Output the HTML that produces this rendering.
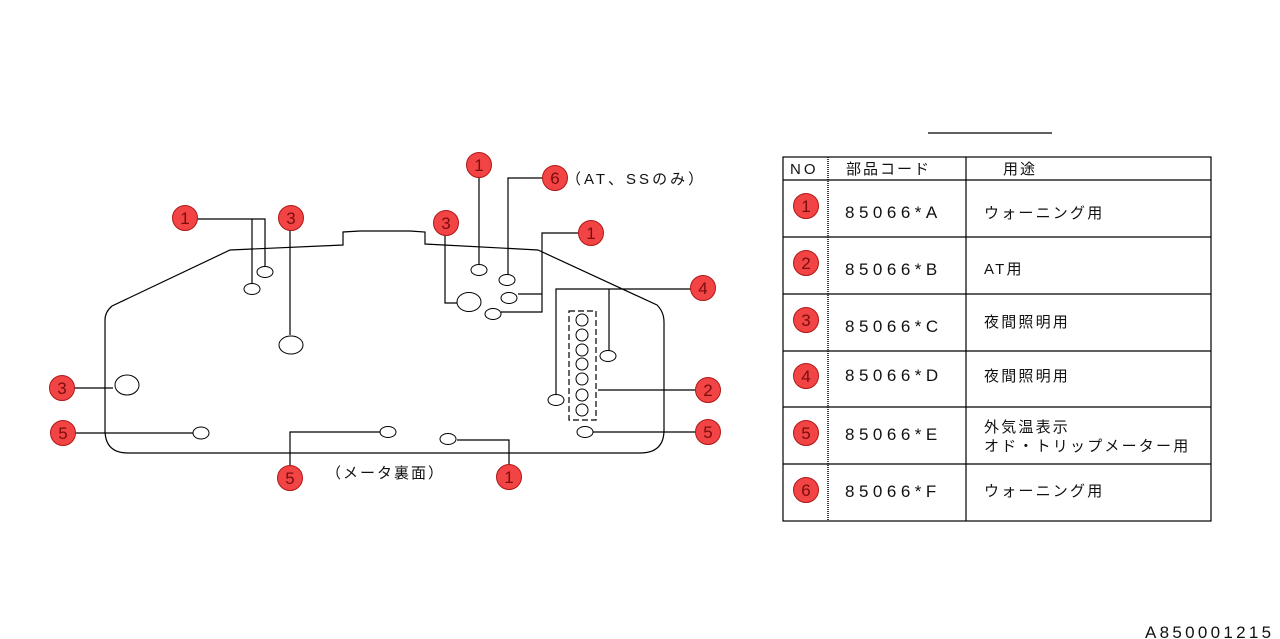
<!DOCTYPE html>
<html><head><meta charset="utf-8"><style>
html,body{margin:0;padding:0;background:#fff;}
svg{display:block;}
text{font-family:"Liberation Sans","Noto Sans CJK JP",sans-serif;}
</style></head><body>
<svg width="1280" height="639" viewBox="0 0 1280 639" xmlns="http://www.w3.org/2000/svg">
<defs>
<g id="b"><circle r="12.5" fill="#f24444" stroke="#b01818" stroke-width="1"/></g>
</defs>
<g fill="none" stroke="#000" stroke-width="1.2">
<path d="M230,250 L343,245 L343,232 L360,231 L410,231 L425,232 L425,244 L538,250 L657,305 Q664,312 664,322 L664,430 Q664,453 640,453 L128,453 Q105,453 105,430 L105,320 Q105,312 112,306 Z"/>
<path d="M196,219 L265,219 L265,267 M252,219 L252,284"/>
<path d="M290,230 L290,335"/>
<path d="M73,388 L113,388"/>
<path d="M74,433 L194,433"/>
<path d="M290,466 L290,432 L381,432"/>
<path d="M509,465 L509,440 L457,440"/>
<path d="M479,177 L479,265"/>
<path d="M544,178 L508,178 L508,275"/>
<path d="M445,235 L445,303 L457,303"/>
<path d="M580,233 L542,233 L542,312 L501,312 M542,294 L518,294"/>
<path d="M692,289 L556,289 L556,395 M609,289 L609,351"/>
<path d="M697,390 L598,390"/>
<path d="M697,432 L593,432"/>
<rect x="569" y="311" width="27" height="109" stroke-dasharray="6,3"/>
</g>
<g fill="#fff" stroke="#000" stroke-width="1">
<ellipse cx="265" cy="272" rx="8" ry="5.5"/>
<ellipse cx="252" cy="289" rx="8" ry="5.5"/>
<ellipse cx="291" cy="345" rx="12" ry="9"/>
<ellipse cx="127" cy="385" rx="12" ry="10"/>
<ellipse cx="201" cy="433" rx="8" ry="6"/>
<ellipse cx="388" cy="432" rx="8" ry="5.5"/>
<ellipse cx="448" cy="439" rx="8" ry="5.5"/>
<ellipse cx="479" cy="270" rx="8" ry="5.5"/>
<ellipse cx="507" cy="280" rx="8" ry="5.5"/>
<ellipse cx="469" cy="302" rx="12" ry="9.5"/>
<ellipse cx="509" cy="298" rx="8" ry="5.5"/>
<ellipse cx="493" cy="314" rx="8" ry="5.5"/>
<ellipse cx="608" cy="356" rx="8" ry="5.5"/>
<ellipse cx="556" cy="400" rx="8" ry="5.5"/>
<ellipse cx="585" cy="432" rx="8" ry="5.5"/>
<circle cx="582" cy="320" r="6"/><circle cx="582" cy="335" r="6"/><circle cx="582" cy="350" r="6"/><circle cx="582" cy="364" r="6"/><circle cx="582" cy="379" r="6"/><circle cx="582" cy="395" r="6"/><circle cx="582" cy="410" r="6"/>
</g>
<g font-size="17" fill="#7a0d0d" text-anchor="middle">
<use href="#b" x="185" y="218"/><text x="185" y="224">1</text>
<use href="#b" x="291" y="218"/><text x="291" y="224">3</text>
<use href="#b" x="62" y="388"/><text x="62" y="394">3</text>
<use href="#b" x="63" y="433"/><text x="63" y="439">5</text>
<use href="#b" x="290" y="478"/><text x="290" y="484">5</text>
<use href="#b" x="509" y="477"/><text x="509" y="483">1</text>
<use href="#b" x="479" y="165"/><text x="479" y="171">1</text>
<use href="#b" x="555" y="178"/><text x="555" y="184">6</text>
<use href="#b" x="446" y="223"/><text x="446" y="229">3</text>
<use href="#b" x="591" y="233"/><text x="591" y="239">1</text>
<use href="#b" x="703" y="288"/><text x="703" y="294">4</text>
<use href="#b" x="708" y="390"/><text x="708" y="396">2</text>
<use href="#b" x="708" y="432"/><text x="708" y="438">5</text>
<use href="#b" x="806" y="206"/><text x="806" y="212">1</text>
<use href="#b" x="806" y="263"/><text x="806" y="269">2</text>
<use href="#b" x="806" y="320"/><text x="806" y="326">3</text>
<use href="#b" x="806" y="376"/><text x="806" y="382">4</text>
<use href="#b" x="806" y="433"/><text x="806" y="439">5</text>
<use href="#b" x="806" y="490"/><text x="806" y="496">6</text>
</g>
<g font-size="15" fill="#111">
<text x="566" y="184" letter-spacing="3">（AT、SSのみ）</text>
<text x="326" y="478" letter-spacing="2">（メータ裏面）</text>
</g>
<g fill="none" stroke="#000" stroke-width="1.2">
<line x1="928" y1="133" x2="1052" y2="133"/>
<rect x="783" y="157" width="428" height="364"/>
<line x1="783" y1="180" x2="1211" y2="180"/>
<line x1="783" y1="237" x2="1211" y2="237"/>
<line x1="783" y1="294" x2="1211" y2="294"/>
<line x1="783" y1="351" x2="1211" y2="351"/>
<line x1="783" y1="407" x2="1211" y2="407"/>
<line x1="783" y1="464" x2="1211" y2="464"/>
<line x1="828" y1="157" x2="828" y2="521" stroke-dasharray="1,1" stroke-width="1.5"/>
<line x1="966" y1="157" x2="966" y2="521"/>
</g>
<g font-size="15" fill="#111">
<text x="790" y="174" letter-spacing="3">NO</text>
<text x="846" y="174" letter-spacing="2">部品コード</text>
<text x="1003" y="174" letter-spacing="2">用途</text>
<g font-size="17" letter-spacing="4.5">
<text x="845" y="218">85066*A</text>
<text x="845" y="275">85066*B</text>
<text x="845" y="332">85066*C</text>
<text x="845" y="381">85066*D</text>
<text x="845" y="440">85066*E</text>
<text x="845" y="497">85066*F</text>
</g>
<g letter-spacing="2.2">
<text x="984" y="218">ウォーニング用</text>
<text x="984" y="274">AT用</text>
<text x="984" y="327">夜間照明用</text>
<text x="984" y="381">夜間照明用</text>
<text x="984" y="432">外気温表示</text>
<text x="984" y="451">オド・トリップメーター用</text>
<text x="984" y="496">ウォーニング用</text>
</g>
<text x="1145" y="638" font-size="17" letter-spacing="3.3">A850001215</text>
</g>
</svg>
</body></html>
